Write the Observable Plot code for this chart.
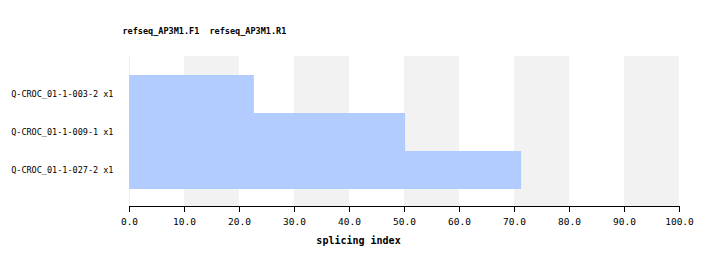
<!DOCTYPE html>
<html><head><meta charset="utf-8">
<script src="https://cdn.jsdelivr.net/npm/d3@7"></script>
<script src="https://cdn.jsdelivr.net/npm/@observablehq/plot@0.6"></script>
<style>body{margin:0;background:#fff}</style>
</head><body><div id="chart"></div>
<script>
const samples = ["Q-CROC_01-1-003-2 x1", "Q-CROC_01-1-009-1 x1", "Q-CROC_01-1-027-2 x1"];
const values = [22.7, 50.2, 71.3];
const bandStarts = [10, 30, 50, 70, 90];
const ticks = [0, 10, 20, 30, 40, 50, 60, 70, 80, 90, 100];
const titleText = "refseq_AP3M1.F1  refseq_AP3M1.R1";
const xLabel = "splicing index";

const data = samples.map((s, i) => ({sample: s, value: values[i]}));
const bands = bandStarts.map(b => ({x1: b, x2: b + 10}));

const chart = Plot.plot({
  width: 716, height: 266,
  marginTop: 56, marginBottom: 60, marginLeft: 129, marginRight: 37,
  style: {fontFamily: "'DejaVu Sans Mono', monospace", fontSize: "8.5px", color: "#000", background: "#fff"},
  x: {domain: [0, 100]},
  y: {domain: samples, padding: 0, insetTop: 19, insetBottom: 17},
  marks: [
    Plot.rectX(bands, {x1: "x1", x2: "x2", fill: "#f2f2f2"}),
    Plot.ruleX([0], {stroke: "#eeeeee"}),
    Plot.barX(data, {x: "value", y: "sample", fill: "#b2ccff", inset: 0}),
    Plot.axisY({tickSize: 0, tickPadding: 16, label: null, fontSize: 8.5}),
    Plot.frame({anchor: "bottom", stroke: "#000"}),
    Plot.axisX({ticks: ticks, tickFormat: d => d.toFixed(1), tickSize: 6, tickPadding: 6, label: null, fontSize: 9.5}),
    Plot.text([xLabel], {frameAnchor: "bottom", dx: -46, dy: 37, fontWeight: "bold", fontSize: 10, text: d => d}),
    Plot.text([titleText], {frameAnchor: "top-left", dx: -7, dy: -29, textAnchor: "start", fontWeight: "bold", fontSize: 8.5, text: d => d})
  ]
});
document.getElementById("chart").appendChild(chart);
</script></body></html>
